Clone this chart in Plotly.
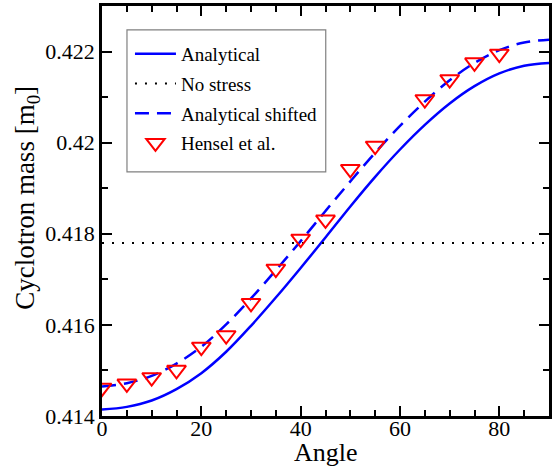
import plotly.graph_objects as go

# Angles (degrees) at which the curves were read
angles = [0, 5, 10, 15, 20, 25, 30, 35, 40, 45, 50, 55, 60, 65, 70, 75, 80, 85, 90]
analytical = [0.41414, 0.41420, 0.41434, 0.41459, 0.41494, 0.41541, 0.41598, 0.41660,
              0.41725, 0.41792, 0.41860, 0.41925, 0.41985, 0.42039, 0.42086, 0.42124,
              0.42152, 0.42169, 0.42175]
analytical_shifted = [0.41465, 0.41472, 0.41488, 0.41515, 0.41552, 0.41601, 0.41658, 0.41720,
                      0.41784, 0.41850, 0.41915, 0.41978, 0.42037, 0.42090, 0.42137, 0.42175,
                      0.42203, 0.42220, 0.42226]
no_stress_x = [0, 90]
no_stress_y = [0.4178, 0.4178]

hensel_angle = [0, 5, 10, 15, 20, 25, 30, 35, 40, 45, 50, 55, 65, 70, 75, 80]
hensel_mass = [0.41462, 0.41471, 0.41485, 0.41501, 0.41552, 0.41577, 0.41648, 0.41723,
               0.41789, 0.41831, 0.41942, 0.41993, 0.42095, 0.42139, 0.42176, 0.42195]

FONT = "Liberation Serif"
BLUE = "#0000ff"

fig = go.Figure()
fig.add_trace(go.Scatter(x=angles, y=analytical, mode="lines", name="Analytical",
                         legendgroup="a", line=dict(color=BLUE, width=2.5, shape="spline")))
fig.add_trace(go.Scatter(x=no_stress_x, y=no_stress_y, mode="lines", name="No stress",
                         legendgroup="b", line=dict(color="black", width=2, dash="2px,8px")))
fig.add_trace(go.Scatter(x=angles, y=analytical_shifted, mode="lines", name="Analytical shifted",
                         legendgroup="c",
                         line=dict(color=BLUE, width=2.5, dash="14px,8px", shape="spline")))
fig.add_trace(go.Scatter(x=hensel_angle, y=hensel_mass, mode="markers", name="Hensel et al.",
                         legendgroup="d",
                         marker=dict(symbol="triangle-down-open", size=16.5, color="red",
                                     line=dict(color="red", width=2))))

axis_common = dict(
    showline=True, linecolor="black", linewidth=2.5, mirror="allticks",
    ticks="inside", ticklen=10, tickwidth=2, tickcolor="black",
    showgrid=False, zeroline=False,
    tickfont=dict(family=FONT, size=22, color="black"),
    automargin=False,
)

fig.update_xaxes(range=[0, 90], dtick=20, tick0=0, ticklabelstandoff=-9,
                 minor=dict(ticks="inside", ticklen=6, tickwidth=2, dtick=5, tickcolor="black",
                            showgrid=False),
                 **axis_common)
fig.update_yaxes(range=[0.414, 0.423], dtick=0.002, tick0=0.414,
                 minor=dict(ticks="inside", ticklen=6, tickwidth=2, dtick=0.001, tickcolor="black",
                            showgrid=False),
                 **axis_common)

# plot area: x 102..549.5 px, y 6..416.5 px
def px_x(p):
    return (p - 102) / 447.5

def px_y(p):
    return (416.5 - p) / 410.5

fig.update_layout(
    width=556, height=466,
    margin=dict(l=102, r=6.5, t=6, b=49.5),
    paper_bgcolor="white", plot_bgcolor="white",
    font=dict(family=FONT, color="black"),
    showlegend=True,
    legend=dict(x=px_x(130), y=px_y(35), xanchor="left", yanchor="top",
                bgcolor="rgba(0,0,0,0)", borderwidth=0, itemwidth=41,
                font=dict(family=FONT, size=19, color="black"),
                tracegroupgap=2),
    shapes=[dict(type="rect", xref="paper", yref="paper",
                 x0=px_x(127), x1=px_x(326), y0=px_y(172), y1=px_y(30),
                 line=dict(color="#808080", width=1.2), fillcolor="white", layer="above")],
    annotations=[
        dict(text="Angle", x=0.5, y=px_y(437), xref="paper", yref="paper",
             xanchor="center", yanchor="top", showarrow=False,
             font=dict(family=FONT, size=26, color="black")),
        dict(text="Cyclotron mass [m<sub>0</sub>]", x=px_x(27), y=px_y(198),
             xref="paper", yref="paper", xanchor="center", yanchor="middle",
             textangle=-90, showarrow=False,
             font=dict(family=FONT, size=27, color="black")),
    ],
)

fig.write_html("out.html")
